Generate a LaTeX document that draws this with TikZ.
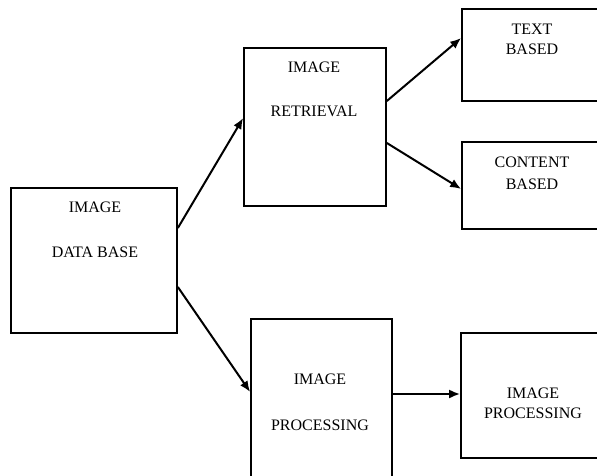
\documentclass[tikz,border=0pt]{standalone}
\usepackage{fontspec}
\setmainfont{Liberation Serif}
\usetikzlibrary{arrows.meta}
\begin{document}
\begin{tikzpicture}[x=1pt,y=-1pt,
  box/.style={draw=black,line width=1.7pt,rectangle,inner sep=0pt,anchor=center},
  lbl/.style={inner sep=0pt,anchor=center,font=\fontsize{16}{18}\selectfont},
  arr/.style={line width=2pt,-{Latex[length=11pt,width=9pt]}}]
\useasboundingbox (0,0) rectangle (597,476);
\clip (0,0) rectangle (597,476);
\fill[white] (0,0) rectangle (597,476);
% boxes
\node[box,minimum width=166pt,minimum height=145pt] (db) at (94,260.5) {};
\node[box,minimum width=142pt,minimum height=158pt] (ret) at (315,127) {};
\node[box,minimum width=148pt,minimum height=92pt] (txt) at (536,55) {};
\node[box,minimum width=148pt,minimum height=87pt] (cnt) at (536,185.5) {};
\node[box,minimum width=141pt,minimum height=171pt] (proc) at (321.5,404.5) {};
\node[box,minimum width=149pt,minimum height=125pt] (ip) at (535.5,395.5) {};
% labels
\node[lbl] (dbA) at (95,207) {IMAGE};
\node[lbl] (dbB) at (95,252) {DATA BASE};
\node[lbl] (retA) at (314,67) {IMAGE};
\node[lbl] (retB) at (314,111) {RETRIEVAL};
\node[lbl] (txtA) at (532,29) {TEXT};
\node[lbl] (txtB) at (532,49) {BASED};
\node[lbl] (cntA) at (532,162) {CONTENT};
\node[lbl] (cntB) at (532,184) {BASED};
\node[lbl] (procA) at (320,379) {IMAGE};
\node[lbl] (procB) at (320,425) {PROCESSING};
\node[lbl] (ipA) at (533,393) {IMAGE};
\node[lbl] (ipB) at (533,413) {PROCESSING};
% connectors
\draw[arr] ([yshift=32.5pt]db.east) -- ([yshift=9pt]ret.west);
\draw[arr] ([yshift=-26.5pt]db.east) -- ([yshift=12.5pt]proc.west);
\draw[arr] ([yshift=26pt]ret.east) -- ([yshift=17pt]txt.west);
\draw[arr] ([yshift=-16pt]ret.east) -- ([yshift=-3.5pt]cnt.west);
\draw[arr] ([yshift=10.5pt]proc.east) -- ([yshift=1.5pt]ip.west);
\end{tikzpicture}
\end{document}
